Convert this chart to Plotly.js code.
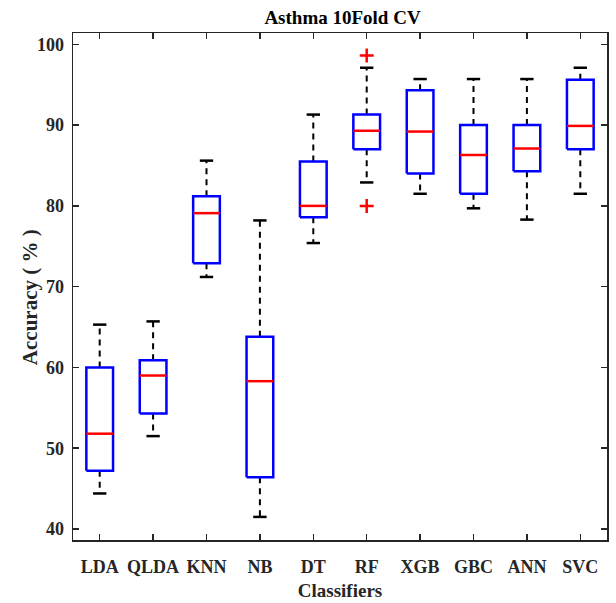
<!DOCTYPE html>
<html>
<head>
<meta charset="utf-8">
<script src="https://cdn.plot.ly/plotly-3.0.1.min.js"></script>
<style>html,body{margin:0;padding:0;background:#fff;}#chart{width:616px;height:603px;}</style>
</head>
<body>
<div id="chart"></div>
<script>
// Data (accuracy %, 10-fold CV)
const classifiers = ["LDA","QLDA","KNN","NB","DT","RF","XGB","GBC","ANN","SVC"];
const lowerWhisker = [44.4, 51.5, 71.2, 41.5, 75.4, 82.9, 81.5, 79.7, 78.3, 81.5];
const q1           = [47.2, 54.3, 72.9, 46.4, 78.6, 87.0, 84.0, 81.5, 84.3, 87.0];
const medians      = [51.8, 59.0, 79.1, 58.3, 80.0, 89.3, 89.2, 86.3, 87.1, 89.9];
const q3           = [60.0, 60.9, 81.2, 63.8, 85.5, 91.3, 94.3, 90.0, 90.0, 95.6];
const upperWhisker = [65.3, 65.7, 85.6, 78.2, 91.3, 97.1, 95.7, 95.7, 95.7, 97.1];
const outlierClass = ["RF", "RF"];
const outlierVals  = [98.6, 80.0];

const boxHalf = 0.25, capHalf = 0.125;
const pos = classifiers.map((c, i) => i + 1);

const boxX = [], boxY = [], medX = [], medY = [], whX = [], whY = [], capX = [], capY = [];
pos.forEach((p, i) => {
  boxX.push(p - boxHalf, p + boxHalf, p + boxHalf, p - boxHalf, p - boxHalf, null);
  boxY.push(q1[i], q1[i], q3[i], q3[i], q1[i], null);
  medX.push(p - boxHalf, p + boxHalf, null);
  medY.push(medians[i], medians[i], null);
  whX.push(p, p, null, p, p, null);
  whY.push(q3[i], upperWhisker[i], null, q1[i], lowerWhisker[i], null);
  capX.push(p - capHalf, p + capHalf, null, p - capHalf, p + capHalf, null);
  capY.push(upperWhisker[i], upperWhisker[i], null, lowerWhisker[i], lowerWhisker[i], null);
});
const outX = outlierClass.map(c => classifiers.indexOf(c) + 1);

const traces = [
  {x: whX, y: whY, mode: "lines", line: {color: "#000", width: 2, dash: "6px,5px"}, hoverinfo: "skip"},
  {x: capX, y: capY, mode: "lines", line: {color: "#000", width: 2.5}, hoverinfo: "skip"},
  {x: boxX, y: boxY, mode: "lines", line: {color: "#0000ff", width: 2.5}, hoverinfo: "skip"},
  {x: medX, y: medY, mode: "lines", line: {color: "#ff0000", width: 2.5}, hoverinfo: "skip"},
  {x: outX, y: outlierVals, mode: "markers", marker: {symbol: "cross-thin", size: 10, color: "#ff0000", line: {color: "#ff0000", width: 2.5}}, hoverinfo: "skip"}
];

const fontFam = "'Liberation Serif', 'Times New Roman', serif";
const axisCommon = {
  showline: true, linecolor: "#262626", linewidth: 1.5, mirror: "ticks",
  ticks: "inside", ticklen: 6, tickwidth: 1.5, tickcolor: "#262626",
  showgrid: false, zeroline: false,
  tickfont: {family: fontFam, size: 18, color: "#262626", weight: "bold"}
};

const layout = {
  width: 616, height: 603,
  margin: {l: 73, r: 9, t: 33, b: 63, autoexpand: false},
  paper_bgcolor: "#fff", plot_bgcolor: "#fff",
  showlegend: false,
  title: {text: "<b>Asthma 10Fold CV</b>", font: {family: fontFam, size: 19, color: "#000"}, x: 0.556, xanchor: "center", y: 0.972, yanchor: "middle"},
  xaxis: Object.assign({}, axisCommon, {
    range: [0.5, 10.5], tickvals: pos, ticktext: classifiers.map(c => "<b>" + c + "</b>"),
    ticklabelstandoff: 10, automargin: false,
    title: {text: "<b>Classifiers</b>", font: {family: fontFam, size: 19, color: "#262626"}, standoff: 7}
  }),
  yaxis: Object.assign({}, axisCommon, {
    range: [38.64, 101.4], tickvals: [40, 50, 60, 70, 80, 90, 100],
    ticktext: ["40","50","60","70","80","90","100"].map(t => "<b>" + t + "</b>"),
    ticklabelstandoff: 4, automargin: false
  }),
  annotations: [{
    text: "<b>Accuracy ( % )</b>", textangle: -90, showarrow: false,
    xref: "paper", yref: "paper", x: -0.0805, y: 0.479, xanchor: "center", yanchor: "middle",
    font: {family: fontFam, size: 21, color: "#262626"}
  }]
};

Plotly.newPlot("chart", traces, layout, {displayModeBar: false, staticPlot: true});
</script>
</body>
</html>
